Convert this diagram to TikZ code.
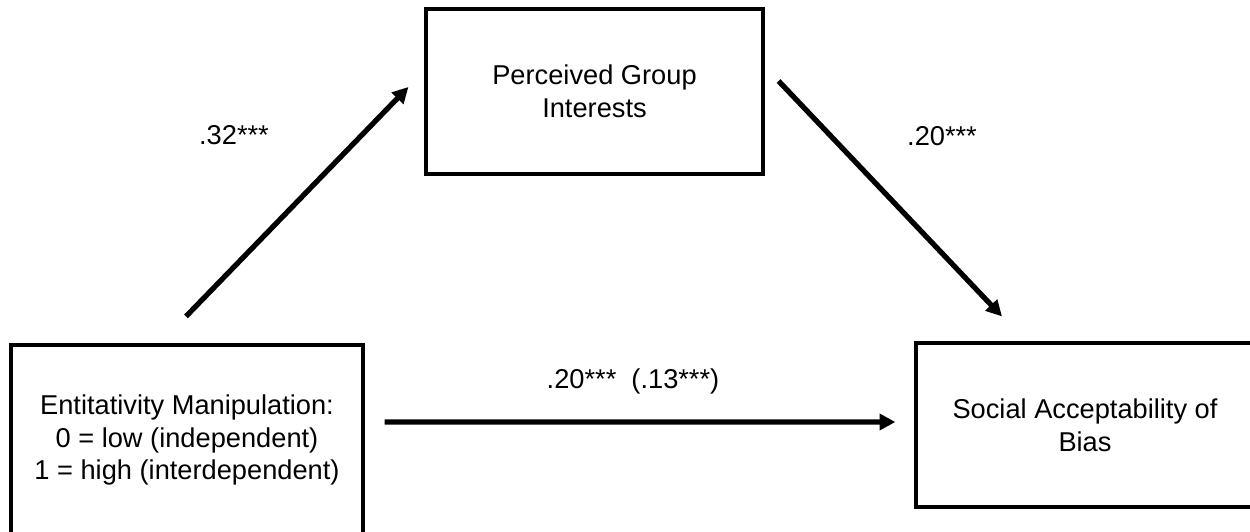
\documentclass[tikz,border=0pt]{standalone}
\usepackage{fontspec}
\setmainfont{Liberation Sans}
\usetikzlibrary{arrows.meta}
\usetikzlibrary{calc}

\begin{document}
\begin{tikzpicture}[
    varbox/.style={draw, line width=1.8pt, align=center, inner sep=0pt,
      font=\fontsize{15.5}{18.6}\selectfont},
    pathlabel/.style={inner sep=0pt, font=\fontsize{15.5}{18.6}\selectfont},
    effect/.style={line width=3pt, -{Triangle[length=9pt, width=9pt]}},
  ]
    \useasboundingbox (0,0) rectangle (25,10.62);
    % the three variables
    \node[varbox, minimum width=6.74cm, minimum height=3.3cm] (pgi) at (11.89,8.79)
      {Perceived Group\\Interests};
    \node[varbox, minimum width=7.04cm, minimum height=3.8cm] (ent) at (3.74,1.82)
      {Entitativity Manipulation:\\0 = low (independent)\\1 = high (interdependent)};
    \node[varbox, minimum width=6.76cm, minimum height=3.28cm] (soc) at (21.70,2.12)
      {Social Acceptability of\\Bias};
    % paths
    \draw[effect] ($(ent.north)+(-0.02,0.54)$) -- ($(pgi.west)+(-0.32,0.09)$);
    \draw[effect] ($(pgi.east)+(0.28,0.21)$) -- ($(soc.north)+(-1.66,0.50)$);
    \draw[effect] ($(ent.east)+(0.40,0.36)$) -- ($(soc.west)+(-0.38,0.06)$);
    % coefficients
    \node[pathlabel] (lbla) at (4.68,7.92) {.32***};
    \node[pathlabel] (lblb) at (18.84,7.90) {.20***};
    \node[pathlabel] (lblc) at (12.66,3.0) {.20***\ \ (.13***)};
  \end{tikzpicture}
\end{document}
